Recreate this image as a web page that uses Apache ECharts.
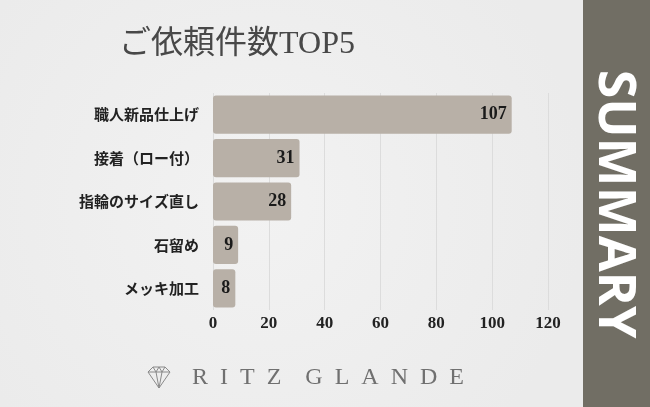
<!DOCTYPE html>
<html><head><meta charset="utf-8">
<script src="https://cdn.jsdelivr.net/npm/echarts@6/dist/echarts.min.js"></script>
<style>html,body{margin:0;padding:0;background:#efefef}#c{width:650px;height:407px}</style>
</head><body><div id="c"></div>
<script>
const categories = ['職人新品仕上げ','接着（ロー付）','指輪のサイズ直し','石留め','メッキ加工'];
const values = [107, 31, 28, 9, 8];
const xTicks = [0, 20, 40, 60, 80, 100, 120];
const titleText = 'ご依頼件数TOP5';
const sideText = 'SUMMARY';
const brandText = 'R\u2002I\u2002T\u2002Z\u2003G\u2002L\u2002A\u2002N\u2002D\u2002E';

const chart = echarts.init(document.getElementById('c'));
chart.setOption({
  backgroundColor: {type:'radial', x:0.4, y:0.5, r:0.8, colorStops:[{offset:0,color:'#f2f2f2'},{offset:1,color:'#ebebeb'}]},
  animation: false,
  grid: {left: 213, top: 93, width: 335, height: 217},
  xAxis: {
    type: 'value', min: xTicks[0], max: xTicks[xTicks.length-1], interval: 20,
    axisLine: {show:false}, axisTick: {show:false},
    splitLine: {lineStyle: {color:'#dcdcdc', width:1}},
    axisLabel: {color:'#222', fontFamily:'Liberation Serif', fontSize:17, fontWeight:'bold', margin:5}
  },
  yAxis: {
    type: 'category', data: categories, inverse: true,
    axisLine: {show:false}, axisTick: {show:false},
    axisLabel: {color:'#222', fontFamily:'Noto Sans CJK JP', fontSize:15, fontWeight:'bold', margin:14}
  },
  series: [{
    type: 'bar', data: values, barCategoryGap: '12%',
    itemStyle: {color:'#b8b0a7', borderRadius: 3},
    label: {show:true, position:'insideRight', color:'#1a1a1a', fontFamily:'Liberation Serif', fontSize:18, fontWeight:'bold', distance:5}
  }],
  graphic: [
    {type:'rect', left:583, top:0, shape:{width:67, height:407}, style:{fill:'#716e64'}},
    {type:'text', x:614, y:204, rotation:-Math.PI/2, style:{text:sideText, fill:'#ffffff', font:'bold 52px "Open Sans"', align:'center', verticalAlign:'middle'}},
    {type:'text', x:237, y:45, style:{text:titleText, fill:'#484848', font:'32px "Liberation Serif", "Noto Sans CJK JP"', align:'center', verticalAlign:'middle'}},
    {type:'text', x:192, y:378, style:{text:brandText, fill:'#707070', font:'24px "Liberation Serif"', align:'left', verticalAlign:'middle'}},
    {type:'polyline', shape:{points:[[148,372],[153,367],[165,367],[170,372],[159,388],[148,372],[170,372]]}, style:{stroke:'#8a8a8a', fill:null, lineWidth:1}},
    {type:'polyline', shape:{points:[[153,367],[156,372],[159,388],[162,372],[165,367]]}, style:{stroke:'#8a8a8a', fill:null, lineWidth:1}},
    {type:'polyline', shape:{points:[[156,372],[159,367],[162,372]]}, style:{stroke:'#8a8a8a', fill:null, lineWidth:1}}
  ]
});
</script></body></html>
